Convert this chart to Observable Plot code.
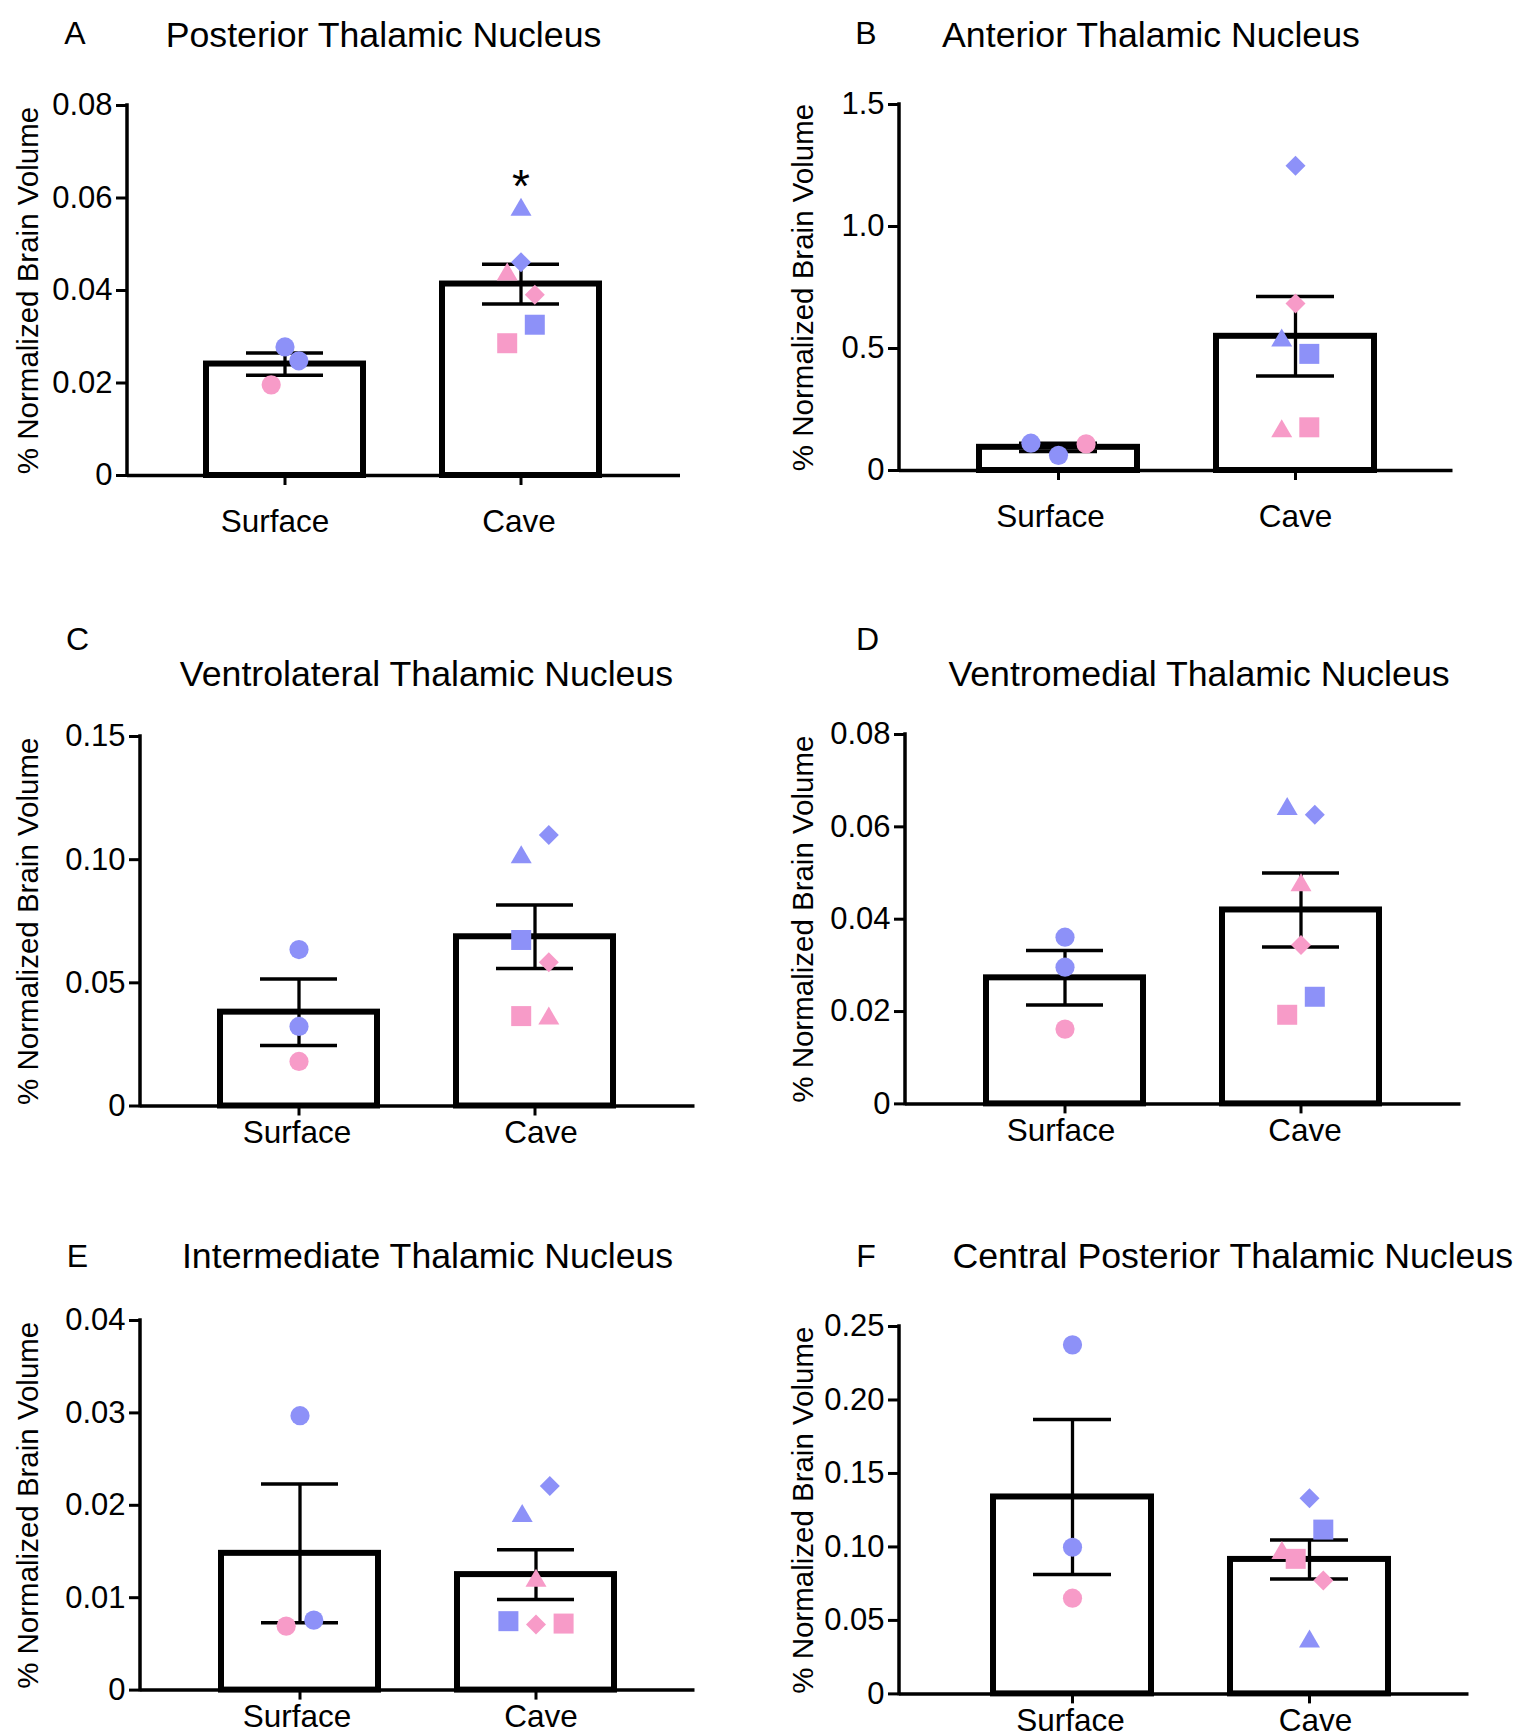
<!DOCTYPE html>
<html>
<head>
<meta charset="utf-8">
<script src="https://cdn.jsdelivr.net/npm/d3@7"></script>
<script src="https://cdn.jsdelivr.net/npm/@observablehq/plot@0.6"></script>
<style>
  body { margin: 0; background: #fff; }
  #page { position: relative; width: 1517px; height: 1735px; overflow: hidden; background: #fff;
          font-family: "Liberation Sans", Arial, Helvetica, sans-serif; color: #000; }
  .panel { position: absolute; }
  .title { position: absolute; width: 800px; text-align: center; white-space: nowrap; line-height: 1; font-size: 35.7px; }
  .letter { position: absolute; width: 60px; text-align: center; line-height: 1; font-size: 32px; }
</style>
</head>
<body>
<div id="page"></div>
<script>
// ---------- shared categories ----------
const groups = ["Surface", "Cave"];
const yLabel = "% Normalized Brain Volume";
// Surface animals (3): two males, one female, all circles
const surfaceShape = ["circle", "circle", "circle"];
const surfaceSex = ["M", "M", "F"];
// Cave animals (6)
const caveShape = ["triangle", "diamond", "square", "triangle", "diamond", "square"];
const caveSex = ["M", "M", "M", "F", "F", "F"];

// ---------- Panel A ----------
const titleA = "Posterior Thalamic Nucleus";
const ticksA = [0, 0.02, 0.04, 0.06, 0.08];
const meanA = [0.0241, 0.0414];
const semA = [0.0024, 0.0043];
const surfaceA = [0.0278, 0.0248, 0.0196];
const caveA = [0.0580, 0.0461, 0.0326, 0.0440, 0.0391, 0.0286];
const surfaceSlotA = [0, 1, -1];
const caveSlotA = [0, 0, 1, -1, 1, -1];
const sigA = [{group: "Cave", value: 0.0624, label: "*"}];

// ---------- Panel B ----------
const titleB = "Anterior Thalamic Nucleus";
const ticksB = [0, 0.5, 1.0, 1.5];
const meanB = [0.095, 0.550];
const semB = [0.017, 0.163];
const surfaceB = [0.112, 0.062, 0.109];
const caveB = [0.543, 1.249, 0.478, 0.171, 0.684, 0.177];
const surfaceSlotB = [-2, 0, 2];
const caveSlotB = [-1, 0, 1, -1, 0, 1];

// ---------- Panel C ----------
const titleC = "Ventrolateral Thalamic Nucleus";
const ticksC = [0, 0.05, 0.10, 0.15];
const meanC = [0.0381, 0.0687];
const semC = [0.0135, 0.0129];
const surfaceC = [0.0635, 0.0323, 0.0181];
const caveC = [0.102, 0.110, 0.0674, 0.0365, 0.0584, 0.0365];
const surfaceSlotC = [0, 0, 0];
const caveSlotC = [-1, 1, -1, 1, 1, -1];

// ---------- Panel D ----------
const titleD = "Ventromedial Thalamic Nucleus";
const ticksD = [0, 0.02, 0.04, 0.06, 0.08];
const meanD = [0.0273, 0.0420];
const semD = [0.0059, 0.0080];
const surfaceD = [0.0361, 0.0296, 0.0162];
const caveD = [0.0644, 0.0626, 0.0232, 0.0479, 0.0344, 0.0193];
const surfaceSlotD = [0, 0, 0];
const caveSlotD = [-1, 1, 1, 0, 0, -1];

// ---------- Panel E ----------
const titleE = "Intermediate Thalamic Nucleus";
const ticksE = [0, 0.01, 0.02, 0.03, 0.04];
const meanE = [0.0148, 0.0125];
const semE = [0.0075, 0.0027];
const surfaceE = [0.0297, 0.00757, 0.00692];
const caveE = [0.0191, 0.0221, 0.00746, 0.0121, 0.0071, 0.0072];
const surfaceSlotE = [0, 1, -1];
const caveSlotE = [-1, 1, -2, 0, 0, 2];

// ---------- Panel F ----------
const titleF = "Central Posterior Thalamic Nucleus";
const ticksF = [0, 0.05, 0.10, 0.15, 0.20, 0.25];
const meanF = [0.1340, 0.0915];
const semF = [0.0527, 0.0133];
const surfaceF = [0.2375, 0.0998, 0.0651];
const caveF = [0.0374, 0.1332, 0.1118, 0.0975, 0.0771, 0.0919];
const surfaceSlotF = [0, 0, 0];
const caveSlotF = [0, 0, 1, -2, 1, -1];

// ---------- styles ----------
const COLORS = {M: "#8d91f8", F: "#f79bc8"};
const SLOT_PX = 13.8;
const FONT = "'Liberation Sans', Arial, Helvetica, sans-serif";
const SYMBOLS = {
  circle:   {draw(c) { c.moveTo(9.6, 0); c.arc(0, 0, 9.6, 0, 2 * Math.PI); }},
  square:   {draw(c) { c.rect(-10, -10, 20, 20); }},
  triangle: {draw(c) { c.moveTo(0, -9.5); c.lineTo(10.5, 8.5); c.lineTo(-10.5, 8.5); c.closePath(); }},
  diamond:  {draw(c) { c.moveTo(0, -10); c.lineTo(10, 0); c.lineTo(0, 10); c.lineTo(-10, 0); c.closePath(); }}
};

// ---------- layout (page pixels) ----------
const panels = [
  {letter: "A", title: titleA, ticks: ticksA, dec: 2, mean: meanA, sem: semA, surface: surfaceA, cave: caveA, sSlot: surfaceSlotA, cSlot: caveSlotA, sig: sigA,
   axisX: 127, xEnd: 680, top: 105, y0: 475, firstOff: 157.5, labelX: 28, xPad: 24, lblShift: [-10, -2],
   titleX: 383.5, titleY: 35, letterX: 75, letterY: 33},
  {letter: "B", title: titleB, ticks: ticksB, dec: 1, mean: meanB, sem: semB, surface: surfaceB, cave: caveB, sSlot: surfaceSlotB, cSlot: caveSlotB,
   axisX: 898.5, xEnd: 1452, top: 104, y0: 470, firstOff: 158.5, labelX: 803, xPad: 24, lblShift: [-8, 0],
   titleX: 1151, titleY: 35, letterX: 866, letterY: 33},
  {letter: "C", title: titleC, ticks: ticksC, dec: 2, mean: meanC, sem: semC, surface: surfaceC, cave: caveC, sSlot: surfaceSlotC, cSlot: caveSlotC,
   axisX: 139.5, xEnd: 694, top: 736, y0: 1105.5, firstOff: 158, labelX: 28, xPad: 4.5, lblShift: [-2, 6],
   titleX: 426.5, titleY: 674, letterX: 77.5, letterY: 638.5},
  {letter: "D", title: titleD, ticks: ticksD, dec: 2, mean: meanD, sem: semD, surface: surfaceD, cave: caveD, sSlot: surfaceSlotD, cSlot: caveSlotD,
   axisX: 905, xEnd: 1460.5, top: 733.6, y0: 1103, firstOff: 159.5, labelX: 803, xPad: 4.5, lblShift: [-4, 4],
   titleX: 1199, titleY: 674, letterX: 867.5, letterY: 638.5},
  {letter: "E", title: titleE, ticks: ticksE, dec: 2, mean: meanE, sem: semE, surface: surfaceE, cave: caveE, sSlot: surfaceSlotE, cSlot: caveSlotE,
   axisX: 139.5, xEnd: 694, top: 1320, y0: 1689.6, firstOff: 159, labelX: 28, xPad: 4.5, lblShift: [-3, 5],
   titleX: 427.6, titleY: 1256, letterX: 77.5, letterY: 1256},
  {letter: "F", title: titleF, ticks: ticksF, dec: 2, mean: meanF, sem: semF, surface: surfaceF, cave: caveF, sSlot: surfaceSlotF, cSlot: caveSlotF,
   axisX: 898.5, xEnd: 1468, top: 1325.6, y0: 1693, firstOff: 173, labelX: 803, xPad: 4.5, lblShift: [-2, 6],
   titleX: 1232.8, titleY: 1256, letterX: 866, letterY: 1256}
];

const page = document.getElementById("page");
const STEP = 237, BW = 158;

function buildPanel(p) {
  const ml = 150, mr = 12, mt = 30, mb = 70;
  const R = p.xEnd - p.axisX;
  const pi = 1 - BW / STEP;
  const extra = R - STEP * (2 - pi);
  const po = extra / (2 * STEP);
  const align = (p.firstOff - BW / 2) / extra;
  const width = ml + R + mr;
  const height = mt + (p.y0 - p.top) + mb;
  const yMax = p.ticks[p.ticks.length - 1];

  const bars = groups.map((g, i) => ({group: g, mean: p.mean[i], lo: p.mean[i] - p.sem[i], hi: p.mean[i] + p.sem[i]}));
  const pts = [];
  p.surface.forEach((v, i) => pts.push({group: "Surface", value: v, shape: surfaceShape[i], sex: surfaceSex[i], slot: p.sSlot[i]}));
  p.cave.forEach((v, i) => pts.push({group: "Cave", value: v, shape: caveShape[i], sex: caveSex[i], slot: p.cSlot[i]}));
  const slots = Array.from(new Set(pts.map(d => d.slot)));

  const fmt = d => d === 0 ? "0" : d.toFixed(p.dec);

  const yAxisLine = (index, scales, values, dims) => {
    const line = document.createElementNS("http://www.w3.org/2000/svg", "line");
    const x = dims.marginLeft;
    line.setAttribute("x1", x); line.setAttribute("x2", x);
    line.setAttribute("y1", dims.height - dims.marginBottom);
    line.setAttribute("y2", dims.marginTop);
    line.setAttribute("stroke", "black");
    line.setAttribute("stroke-width", 3.5);
    line.setAttribute("stroke-linecap", "square");
    return line;
  };

  const marks = [
    Plot.barY(bars, {x: "group", y: "mean", fill: "white", stroke: "black", strokeWidth: 6, inset: 0}),
    Plot.ruleX(bars, {x: "group", y1: "lo", y2: "hi", stroke: "black", strokeWidth: 3.3}),
    Plot.tickY(bars, {x: "group", y: "lo", stroke: "black", strokeWidth: 3.5, insetLeft: 40, insetRight: 40}),
    Plot.tickY(bars, {x: "group", y: "hi", stroke: "black", strokeWidth: 3.5, insetLeft: 40, insetRight: 40}),
    Plot.ruleY([0], {stroke: "black", strokeWidth: 3.5}),
    yAxisLine,
    Plot.axisY({ticks: p.ticks, tickFormat: fmt, tickSize: 11, tickPadding: 4, fontSize: 31, strokeWidth: 3, label: null}),
    // x tick marks (no text)
    Plot.axisX({tickSize: 10, strokeWidth: 3, tickFormat: () => "", label: null}),
    Plot.text([yLabel], {frameAnchor: "left", textAnchor: "middle", lineAnchor: "middle", rotate: -90,
                         dx: p.labelX - p.axisX, fontSize: 29.5, fill: "black"})
  ];
  // x category labels, each nudged as in the reference
  groups.forEach((g, i) => {
    marks.push(Plot.axisX({ticks: [g], tickSize: 0, tickPadding: 10 + p.xPad, dx: p.lblShift[i],
                           fontSize: 31.5, label: null}));
  });
  for (const s of slots) {
    marks.push(Plot.dot(pts.filter(d => d.slot === s), {
      x: "group", y: "value", dx: s * SLOT_PX,
      symbol: d => SYMBOLS[d.shape], fill: d => COLORS[d.sex], stroke: "none"
    }));
  }
  if (p.sig) {
    marks.push(Plot.text(p.sig, {x: "group", y: "value", text: "label", fontSize: 46, fill: "black"}));
  }

  const chart = Plot.plot({
    width, height, marginLeft: ml, marginRight: mr, marginTop: mt, marginBottom: mb,
    style: {fontFamily: FONT, background: "transparent", overflow: "visible", color: "black"},
    x: {type: "band", domain: groups, paddingInner: pi, paddingOuter: po, align},
    y: {domain: [0, yMax]},
    marks
  });

  const wrap = document.createElement("div");
  wrap.className = "panel";
  wrap.style.left = (p.axisX - ml) + "px";
  wrap.style.top = (p.top - mt) + "px";
  wrap.appendChild(chart);
  page.appendChild(wrap);

  const t = document.createElement("div");
  t.className = "title";
  t.textContent = p.title;
  t.style.left = (p.titleX - 400) + "px";
  t.style.top = (p.titleY - 0.49 * 35.7) + "px";
  page.appendChild(t);

  const l = document.createElement("div");
  l.className = "letter";
  l.textContent = p.letter;
  l.style.left = (p.letterX - 30) + "px";
  l.style.top = (p.letterY - 0.49 * 32) + "px";
  page.appendChild(l);
}

panels.forEach(buildPanel);
</script>
</body>
</html>
